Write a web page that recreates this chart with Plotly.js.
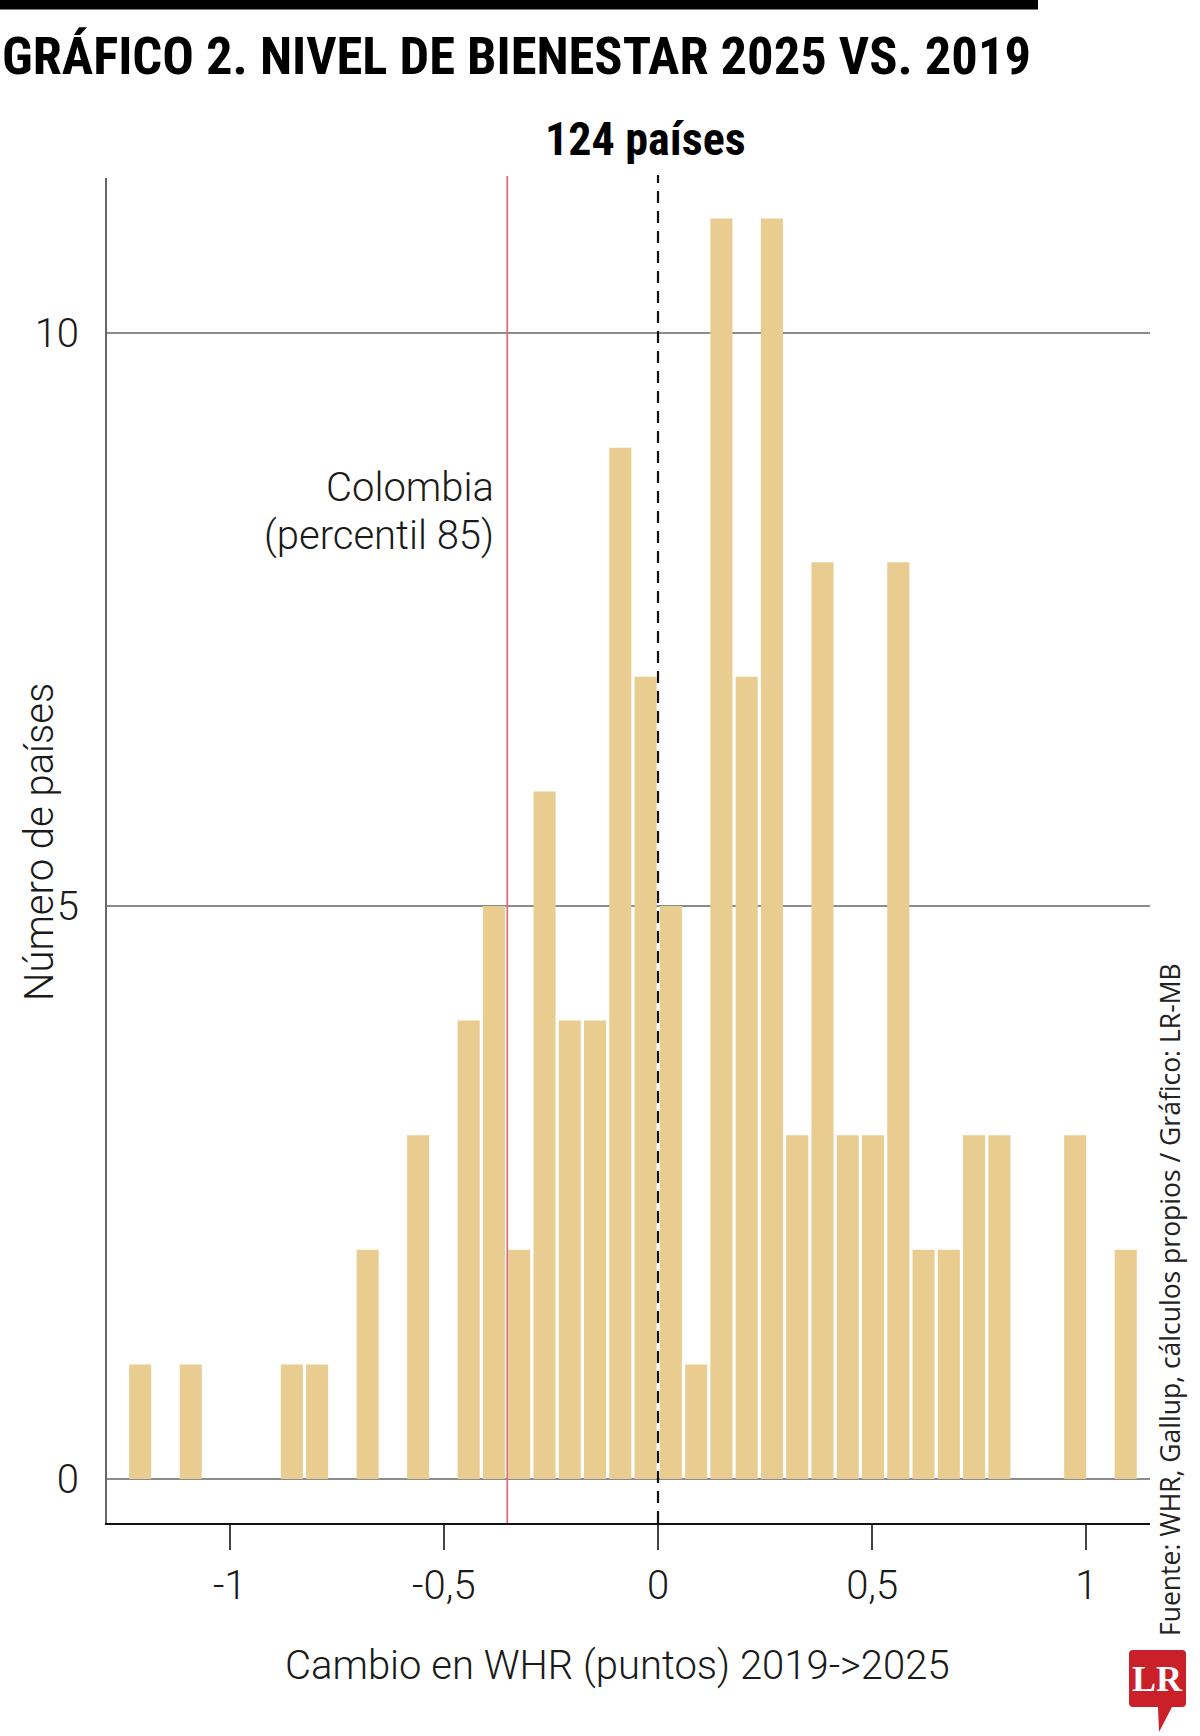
<!DOCTYPE html>
<html><head><meta charset="utf-8">
<script src="https://cdn.plot.ly/plotly-3.0.1.min.js"></script>
<style>html,body{margin:0;padding:0;background:#fff;} #chart{width:1200px;height:1736px;}</style>
</head><body><div id="chart"></div>
<script>
// ---- data ----
const binCenters = [-1.209,-1.150,-1.091,-1.032,-0.973,-0.914,-0.855,-0.796,-0.737,-0.678,
  -0.619,-0.560,-0.501,-0.442,-0.383,-0.324,-0.265,-0.206,-0.147,-0.088,
  -0.029,0.030,0.089,0.148,0.207,0.266,0.325,0.384,0.443,0.502,
  0.561,0.620,0.679,0.738,0.797,0.856,0.915,0.974,1.033,1.092];
const countryCounts = [1,0,1,0,0,0,1,1,0,2,
  0,3,0,4,5,2,6,4,4,9,
  7,5,1,11,7,11,3,8,3,3,
  8,2,2,3,3,0,0,3,0,2];
const xTickVals = [-1,-0.5,0,0.5,1];
const xTickText = ['-1','-0,5','0','0,5','1'];
const yTickVals = [0,5,10];
const yTickText = ['0','5','10'];
const colombiaChange = -0.352;
const zeroChange = 0;

const titleText = 'GRÁFICO 2. NIVEL DE BIENESTAR 2025 VS. 2019';
const subtitleText = '124 países';
const colombiaLine1 = 'Colombia';
const colombiaLine2 = '(percentil 85)';
const xTitle = 'Cambio en WHR (puntos) 2019->2025';
const yTitle = 'Número de países';
const sourceText = 'Fuente: WHR, Gallup, cálculos propios / Gráfico: LR-MB';

// ---- layout helpers (pixel -> paper) ----
const L = 107, R = 1150, T = 178, B = 1523;
const px = v => (v - L) / (R - L);
const py = v => (B - v) / (B - T);

const lightFont = (size) => ({family: 'Roboto, "Open Sans", sans-serif', weight: 300, size: size, color: '#1a1a1a'});
const boldCond = (size) => ({family: '"Liberation Sans Narrow", "Roboto Condensed", "DejaVu Sans Condensed", sans-serif', weight: 700, size: size, color: '#000'});

const trace = {
  type: 'bar',
  x: binCenters,
  y: countryCounts,
  width: 0.0515,
  marker: {color: '#e9cc8f', line: {width: 0}},
  hoverinfo: 'x+y'
};

const red = '#c9202a';
const logoPath = 'M ' + px(1133) + ' ' + py(1650) +
  ' L ' + px(1182) + ' ' + py(1650) +
  ' Q ' + px(1186) + ' ' + py(1650) + ' ' + px(1186) + ' ' + py(1654) +
  ' L ' + px(1186) + ' ' + py(1703) +
  ' Q ' + px(1186) + ' ' + py(1707) + ' ' + px(1182) + ' ' + py(1707) +
  ' L ' + px(1172) + ' ' + py(1707) +
  ' L ' + px(1159) + ' ' + py(1732) +
  ' L ' + px(1158) + ' ' + py(1707) +
  ' L ' + px(1133) + ' ' + py(1707) +
  ' Q ' + px(1129) + ' ' + py(1707) + ' ' + px(1129) + ' ' + py(1703) +
  ' L ' + px(1129) + ' ' + py(1654) +
  ' Q ' + px(1129) + ' ' + py(1650) + ' ' + px(1133) + ' ' + py(1650) + ' Z';

const layout = {
  width: 1200, height: 1736,
  margin: {l: L, r: 1200 - R, t: T, b: 1736 - B, pad: 0},
  paper_bgcolor: '#fff', plot_bgcolor: '#fff',
  showlegend: false,
  bargap: 0.13,
  xaxis: {
    range: [-1.2865, 1.1487],
    tickvals: xTickVals, ticktext: xTickText,
    ticks: 'outside', ticklen: 25, tickwidth: 2, tickcolor: '#444',
    showline: true, linecolor: '#111', linewidth: 2,
    showgrid: false, zeroline: false,
    tickfont: lightFont(40),
    ticklabelstandoff: 1,
    fixedrange: true
  },
  yaxis: {
    range: [-0.384, 11.353],
    tickvals: yTickVals, ticktext: yTickText,
    ticks: '',
    showline: true, linecolor: '#666', linewidth: 2,
    showgrid: true, gridcolor: '#8c8c8c', gridwidth: 1.6,
    zeroline: false,
    tickfont: lightFont(40),
    ticklabelstandoff: 18,
    fixedrange: true
  },
  shapes: [
    {type: 'rect', xref: 'paper', yref: 'paper', x0: px(0), x1: px(1038), y0: py(0), y1: py(9.5),
      fillcolor: '#000', line: {width: 0}},
    {type: 'line', xref: 'x', yref: 'paper', x0: colombiaChange, x1: colombiaChange, y0: 0, y1: py(176),
      line: {color: '#e2707a', width: 1.8}, layer: 'above'},
    {type: 'line', xref: 'x', yref: 'paper', x0: zeroChange, x1: zeroChange, y0: 0, y1: py(175),
      line: {color: '#111', width: 2.2, dash: '12px,8px'}, layer: 'above'},
    {type: 'path', xref: 'paper', yref: 'paper', path: logoPath, fillcolor: red, line: {width: 0}}
  ],
  annotations: [
    {xref: 'paper', yref: 'paper', x: px(0), y: py(56), xanchor: 'left', yanchor: 'middle',
      text: titleText, showarrow: false, font: boldCond(52.5)},
    {xref: 'paper', yref: 'paper', x: px(645), y: py(139), xanchor: 'center', yanchor: 'middle',
      text: subtitleText, showarrow: false, font: boldCond(46)},
    {xref: 'paper', yref: 'paper', x: px(496), y: py(488), xanchor: 'right', yanchor: 'middle',
      text: colombiaLine1, showarrow: false, font: lightFont(40)},
    {xref: 'paper', yref: 'paper', x: px(496), y: py(535), xanchor: 'right', yanchor: 'middle',
      text: colombiaLine2, showarrow: false, font: lightFont(40)},
    {xref: 'paper', yref: 'paper', x: px(617), y: py(1665), xanchor: 'center', yanchor: 'middle',
      text: xTitle, showarrow: false, font: lightFont(40)},
    {xref: 'paper', yref: 'paper', x: px(39), y: py(842), xanchor: 'center', yanchor: 'middle',
      text: yTitle, textangle: -90, showarrow: false, font: lightFont(40)},
    {xref: 'paper', yref: 'paper', x: px(1170), y: py(1300), xanchor: 'center', yanchor: 'middle',
      text: sourceText, textangle: -90, showarrow: false,
      font: {family: '"Open Sans", Roboto, sans-serif', weight: 400, size: 26.5, color: '#222'}},
    {xref: 'paper', yref: 'paper', x: px(1157), y: py(1679), xanchor: 'center', yanchor: 'middle',
      text: '<b>LR</b>', showarrow: false,
      font: {family: '"Liberation Serif", "DejaVu Serif", serif', size: 36, color: '#fff'}}
  ]
};

Plotly.newPlot('chart', [trace], layout, {displayModeBar: false, staticPlot: true});
</script>
</body></html>
